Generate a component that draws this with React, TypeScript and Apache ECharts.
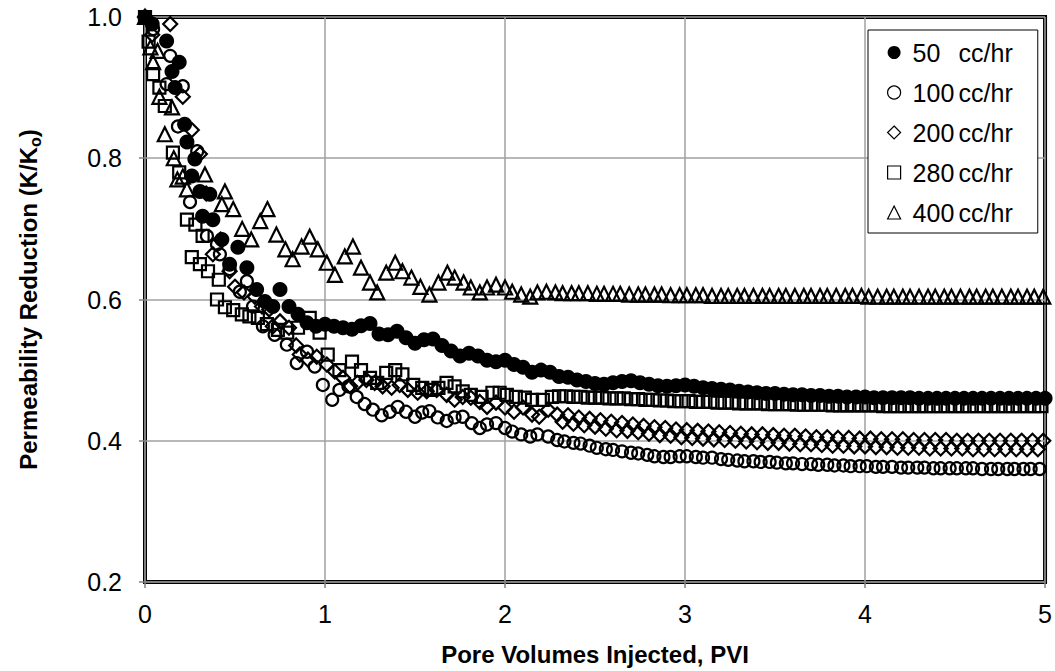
import React, { useEffect, useRef } from "react";
import * as echarts from "echarts";

// Flow rates (legend) and unit
const rates = ["50", "100", "200", "280", "400"];
const unit = "cc/hr";

// Axis settings
const xTickValues = [0, 1, 2, 3, 4, 5];
const yTickValues = [0.2, 0.4, 0.6, 0.8, 1.0];

// [PVI, K/Ko]
const data50: number[][] = [
  [0, 1.0], [0.04, 0.99], [0.12, 0.966], [0.15, 0.923], [0.167, 0.9], [0.19, 0.936], [0.22, 0.848], [0.233, 0.823],
  [0.26, 0.775], [0.277, 0.799], [0.305, 0.753], [0.32, 0.718], [0.36, 0.749], [0.377, 0.713], [0.427, 0.685],
  [0.47, 0.65], [0.516, 0.674], [0.566, 0.645], [0.62, 0.614], [0.666, 0.597], [0.71, 0.59], [0.75, 0.614],
  [0.8, 0.59], [0.85, 0.579], [0.9, 0.567], [0.95, 0.562], [1.0, 0.565], [1.05, 0.562], [1.1, 0.56], [1.15, 0.558],
  [1.2, 0.563], [1.25, 0.566], [1.3, 0.551], [1.35, 0.55], [1.4, 0.555], [1.45, 0.546], [1.5, 0.538], [1.55, 0.543],
  [1.6, 0.544], [1.65, 0.535], [1.7, 0.527], [1.75, 0.52], [1.8, 0.524], [1.85, 0.52], [1.9, 0.514], [1.95, 0.512],
  [2.0, 0.514], [2.05, 0.508], [2.1, 0.504], [2.15, 0.497], [2.2, 0.5], [2.25, 0.497], [2.3, 0.491], [2.35, 0.49],
  [2.4, 0.486], [2.45, 0.484], [2.5, 0.481], [2.55, 0.48], [2.6, 0.482], [2.65, 0.484], [2.7, 0.485], [2.75, 0.482],
  [2.8, 0.48], [2.85, 0.478], [2.9, 0.477], [2.95, 0.478], [3.0, 0.479], [3.05, 0.477], [3.1, 0.475], [3.15, 0.474],
  [3.2, 0.473], [3.25, 0.472], [3.3, 0.47], [3.35, 0.469], [3.4, 0.468], [3.45, 0.467], [3.5, 0.467], [3.55, 0.466],
  [3.6, 0.465], [3.65, 0.465], [3.7, 0.464], [3.75, 0.464], [3.8, 0.463], [3.85, 0.463], [3.9, 0.462], [3.95, 0.462],
  [4.0, 0.462], [4.05, 0.461], [4.1, 0.461], [4.15, 0.461], [4.2, 0.461], [4.25, 0.461], [4.3, 0.46], [4.35, 0.46],
  [4.4, 0.46], [4.45, 0.46], [4.5, 0.46], [4.55, 0.46], [4.6, 0.46], [4.65, 0.46], [4.7, 0.46], [4.75, 0.46],
  [4.8, 0.46], [4.85, 0.46], [4.9, 0.46], [4.95, 0.46], [5.0, 0.46],
];

const data100: number[][] = [
  [0, 1.0], [0.045, 0.983], [0.12, 0.905], [0.14, 0.945], [0.183, 0.845], [0.21, 0.902], [0.25, 0.738], [0.29, 0.81],
  [0.344, 0.69], [0.4, 0.678], [0.416, 0.664], [0.47, 0.643], [0.527, 0.611], [0.566, 0.626], [0.6, 0.59],
  [0.655, 0.562], [0.72, 0.55], [0.788, 0.536], [0.843, 0.51], [0.9, 0.526], [0.943, 0.505], [0.988, 0.479],
  [1.04, 0.458], [1.08, 0.472], [1.13, 0.477], [1.176, 0.462], [1.22, 0.452], [1.266, 0.444], [1.315, 0.436],
  [1.36, 0.441], [1.404, 0.448], [1.45, 0.441], [1.5, 0.434], [1.54, 0.44], [1.58, 0.442], [1.626, 0.433],
  [1.676, 0.428], [1.72, 0.433], [1.765, 0.434], [1.815, 0.425], [1.86, 0.418], [1.9, 0.423], [1.95, 0.425],
  [2.0, 0.418], [2.04, 0.413], [2.09, 0.409], [2.14, 0.406], [2.18, 0.409], [2.24, 0.406], [2.29, 0.401],
  [2.33, 0.399], [2.38, 0.397], [2.42, 0.396], [2.47, 0.393], [2.51, 0.39], [2.56, 0.388], [2.6, 0.387],
  [2.65, 0.385], [2.7, 0.383], [2.74, 0.382], [2.79, 0.38], [2.83, 0.378], [2.88, 0.377], [2.92, 0.377],
  [2.97, 0.378], [3.01, 0.378], [3.06, 0.377], [3.1, 0.376], [3.15, 0.376], [3.2, 0.374], [3.24, 0.373],
  [3.29, 0.372], [3.33, 0.371], [3.38, 0.371], [3.42, 0.37], [3.47, 0.37], [3.51, 0.369], [3.56, 0.368],
  [3.6, 0.368], [3.65, 0.367], [3.7, 0.367], [3.74, 0.366], [3.79, 0.366], [3.83, 0.365], [3.88, 0.365],
  [3.92, 0.364], [3.97, 0.364], [4.01, 0.364], [4.06, 0.363], [4.1, 0.363], [4.15, 0.363], [4.2, 0.362],
  [4.24, 0.362], [4.29, 0.362], [4.33, 0.362], [4.38, 0.361], [4.42, 0.361], [4.47, 0.361], [4.51, 0.361],
  [4.56, 0.361], [4.6, 0.361], [4.65, 0.36], [4.7, 0.36], [4.74, 0.36], [4.79, 0.36], [4.83, 0.36], [4.88, 0.36],
  [4.92, 0.36], [4.97, 0.36],
];

const data200: number[][] = [
  [0, 1.0], [0.04, 0.975], [0.14, 0.99], [0.21, 0.887], [0.26, 0.84], [0.305, 0.806], [0.34, 0.75], [0.377, 0.664],
  [0.42, 0.685], [0.47, 0.64], [0.5, 0.618], [0.55, 0.61], [0.61, 0.604], [0.65, 0.59], [0.69, 0.586], [0.71, 0.562],
  [0.75, 0.569], [0.8, 0.56], [0.84, 0.535], [0.86, 0.522], [0.905, 0.515], [0.954, 0.519], [1.01, 0.508],
  [1.054, 0.498], [1.1, 0.489], [1.14, 0.477], [1.18, 0.482], [1.23, 0.486], [1.276, 0.482], [1.32, 0.477],
  [1.37, 0.475], [1.415, 0.479], [1.46, 0.472], [1.515, 0.468], [1.565, 0.47], [1.62, 0.472], [1.676, 0.465],
  [1.72, 0.458], [1.765, 0.462], [1.81, 0.461], [1.86, 0.455], [1.9, 0.448], [1.95, 0.454], [2.0, 0.447],
  [2.05, 0.441], [2.1, 0.447], [2.15, 0.437], [2.19, 0.434], [2.24, 0.444], [2.29, 0.437],
  [2.32, 0.427], [2.35, 0.436], [2.38, 0.424], [2.41, 0.433], [2.44, 0.422], [2.47, 0.431], [2.5, 0.42], [2.53, 0.429],
  [2.56, 0.417], [2.59, 0.427], [2.62, 0.415], [2.65, 0.425], [2.68, 0.414], [2.71, 0.423], [2.74, 0.412], [2.77, 0.421],
  [2.8, 0.41], [2.83, 0.419], [2.86, 0.408], [2.89, 0.418], [2.92, 0.407], [2.95, 0.416], [2.98, 0.405], [3.01, 0.415],
  [3.04, 0.404], [3.07, 0.414], [3.1, 0.403], [3.13, 0.413], [3.16, 0.402], [3.19, 0.412], [3.22, 0.401], [3.25, 0.411],
  [3.28, 0.4], [3.31, 0.41], [3.34, 0.399], [3.37, 0.409], [3.4, 0.398], [3.43, 0.409], [3.46, 0.397], [3.49, 0.408],
  [3.52, 0.397], [3.55, 0.407], [3.58, 0.396], [3.61, 0.407], [3.64, 0.395], [3.67, 0.406], [3.7, 0.395], [3.73, 0.405],
  [3.76, 0.394], [3.79, 0.405], [3.82, 0.393], [3.85, 0.404], [3.88, 0.393], [3.91, 0.404], [3.94, 0.392], [3.97, 0.403],
  [4.0, 0.392], [4.03, 0.403], [4.06, 0.391], [4.09, 0.402], [4.12, 0.391], [4.15, 0.402], [4.18, 0.39], [4.21, 0.402],
  [4.24, 0.39], [4.27, 0.401], [4.3, 0.39], [4.33, 0.401], [4.36, 0.389], [4.39, 0.401], [4.42, 0.389], [4.45, 0.401],
  [4.48, 0.389], [4.51, 0.4], [4.54, 0.389], [4.57, 0.4], [4.6, 0.388], [4.63, 0.4], [4.66, 0.388], [4.69, 0.4],
  [4.72, 0.388], [4.75, 0.4], [4.78, 0.388], [4.81, 0.4], [4.84, 0.388], [4.87, 0.4], [4.9, 0.388], [4.93, 0.4],
  [4.96, 0.388], [4.99, 0.4],
];

const data280: number[][] = [
  [0, 1.0], [0.02, 0.965], [0.045, 0.919], [0.08, 0.9], [0.11, 0.874], [0.155, 0.808], [0.19, 0.78], [0.233, 0.713],
  [0.26, 0.66], [0.28, 0.706], [0.305, 0.65], [0.32, 0.69], [0.35, 0.64], [0.4, 0.6], [0.41, 0.628], [0.444, 0.589],
  [0.49, 0.585], [0.538, 0.579], [0.58, 0.576], [0.627, 0.574], [0.677, 0.565], [0.738, 0.557], [0.79, 0.553],
  [0.85, 0.56], [0.915, 0.574], [0.97, 0.553], [1.015, 0.522], [1.08, 0.5], [1.15, 0.512], [1.2, 0.5], [1.25, 0.489],
  [1.29, 0.482], [1.34, 0.496], [1.39, 0.5], [1.43, 0.494], [1.49, 0.479], [1.54, 0.475], [1.59, 0.472],
  [1.63, 0.475], [1.675, 0.482], [1.72, 0.477], [1.765, 0.47], [1.81, 0.465], [1.87, 0.462], [1.93, 0.468],
  [1.97, 0.468], [2.01, 0.465], [2.06, 0.462], [2.11, 0.461], [2.15, 0.458], [2.21, 0.458], [2.26, 0.462],
  [2.3, 0.463], [2.34, 0.463], [2.38, 0.462], [2.42, 0.462], [2.46, 0.461], [2.5, 0.461], [2.54, 0.461], [2.58, 0.46],
  [2.62, 0.46], [2.66, 0.46], [2.7, 0.459], [2.74, 0.459], [2.78, 0.458], [2.82, 0.458], [2.86, 0.457], [2.9, 0.457],
  [2.94, 0.456], [2.98, 0.456], [3.02, 0.456], [3.06, 0.455], [3.1, 0.455], [3.14, 0.455], [3.18, 0.454],
  [3.22, 0.454], [3.26, 0.454], [3.3, 0.453], [3.34, 0.453], [3.38, 0.453], [3.42, 0.453], [3.46, 0.452],
  [3.5, 0.452], [3.54, 0.452], [3.58, 0.452], [3.62, 0.451], [3.66, 0.451], [3.7, 0.451], [3.74, 0.451],
  [3.78, 0.451], [3.82, 0.45], [3.86, 0.45], [3.9, 0.45], [3.94, 0.45], [3.98, 0.45], [4.02, 0.45], [4.06, 0.45],
  [4.1, 0.449], [4.14, 0.449], [4.18, 0.449], [4.22, 0.449], [4.26, 0.449], [4.3, 0.449], [4.34, 0.449],
  [4.38, 0.449], [4.42, 0.449], [4.46, 0.449], [4.5, 0.449], [4.54, 0.449], [4.58, 0.449], [4.62, 0.449],
  [4.66, 0.449], [4.7, 0.449], [4.74, 0.449], [4.78, 0.449], [4.82, 0.449], [4.86, 0.449], [4.9, 0.449],
  [4.94, 0.449], [4.98, 0.449],
];

const data400: number[][] = [
  [0, 1.0], [0.03, 0.957], [0.045, 0.936], [0.07, 0.952], [0.08, 0.887], [0.11, 0.834], [0.15, 0.872], [0.16, 0.8],
  [0.18, 0.77], [0.21, 0.774], [0.233, 0.756], [0.333, 0.777], [0.427, 0.735], [0.444, 0.753], [0.49, 0.728],
  [0.54, 0.7], [0.59, 0.685], [0.64, 0.711], [0.68, 0.728], [0.73, 0.692], [0.78, 0.671], [0.82, 0.657],
  [0.87, 0.675], [0.915, 0.689], [0.96, 0.671], [1.01, 0.652], [1.055, 0.635], [1.11, 0.661], [1.155, 0.675],
  [1.2, 0.645], [1.25, 0.624], [1.29, 0.61], [1.34, 0.638], [1.39, 0.652], [1.43, 0.64], [1.48, 0.631],
  [1.53, 0.618], [1.58, 0.607], [1.63, 0.624], [1.68, 0.638], [1.72, 0.631], [1.77, 0.624], [1.81, 0.617],
  [1.86, 0.61], [1.9, 0.617], [1.95, 0.621], [2.0, 0.617], [2.04, 0.611], [2.09, 0.607], [2.14, 0.604],
  [2.18, 0.61], [2.23, 0.611], [2.28, 0.61], [2.32, 0.609], [2.37, 0.609], [2.41, 0.609], [2.46, 0.609],
  [2.51, 0.608], [2.55, 0.608], [2.6, 0.608], [2.64, 0.608], [2.69, 0.607], [2.74, 0.607], [2.78, 0.607],
  [2.83, 0.607], [2.87, 0.607], [2.92, 0.606], [2.97, 0.606], [3.01, 0.606], [3.06, 0.606], [3.1, 0.606],
  [3.15, 0.605], [3.2, 0.605], [3.24, 0.605], [3.29, 0.605], [3.33, 0.605], [3.38, 0.605], [3.43, 0.605],
  [3.47, 0.605], [3.52, 0.605], [3.56, 0.605], [3.61, 0.605], [3.66, 0.605], [3.7, 0.605], [3.75, 0.605],
  [3.79, 0.605], [3.84, 0.605], [3.89, 0.605], [3.93, 0.605], [3.98, 0.605], [4.02, 0.604], [4.07, 0.604],
  [4.12, 0.604], [4.16, 0.604], [4.21, 0.604], [4.25, 0.604], [4.3, 0.604], [4.35, 0.604], [4.39, 0.604],
  [4.44, 0.604], [4.48, 0.604], [4.53, 0.604], [4.58, 0.604], [4.62, 0.604], [4.67, 0.604], [4.71, 0.604],
  [4.76, 0.604], [4.81, 0.604], [4.85, 0.604], [4.9, 0.604], [4.94, 0.604], [4.99, 0.604],
];

const seriesData = [data50, data100, data200, data280, data400];
const symbols = ["circle", "circle", "diamond", "rect", "triangle"];
const filled = [true, false, false, false, false];
const sizes = [15, 12, 14, 12, 14];

const FONT = "'Liberation Sans', Arial, sans-serif";

export default function App() {
  const ref = useRef<HTMLDivElement>(null);

  useEffect(() => {
    if (!ref.current) return;
    const chart = echarts.init(ref.current, null, { renderer: "svg" });
    const names = rates.map((r) => `${r} ${unit}`);
    const option: any = {
      animation: false,
      backgroundColor: "#fff",
      textStyle: { fontFamily: FONT },
      grid: {
        left: 145,
        right: 9,
        top: 17,
        bottom: 89,
        show: true,
        borderColor: "#000",
        borderWidth: 4,
        backgroundColor: "transparent",
      },
      xAxis: {
        type: "value",
        min: xTickValues[0],
        max: xTickValues[xTickValues.length - 1],
        interval: 1,
        name: "Pore Volumes Injected, PVI",
        nameLocation: "middle",
        nameGap: 60,
        nameTextStyle: { fontSize: 24, fontWeight: "bold", color: "#000", fontFamily: FONT },
        axisLine: { show: true, lineStyle: { color: "#808080", width: 1.5 } },
        axisTick: { show: true, length: 6, lineStyle: { color: "#808080", width: 1.5 } },
        axisLabel: { fontSize: 25, color: "#000", margin: 19, fontFamily: FONT },
        splitLine: { show: true, lineStyle: { color: "#a0a0a0", width: 1.5 } },
      },
      yAxis: {
        type: "value",
        min: yTickValues[0],
        max: yTickValues[yTickValues.length - 1],
        interval: 0.2,
        name: "{m|Permeability Reduction (K/K}{s|o}{m|)}",
        nameLocation: "middle",
        nameRotate: 90,
        nameGap: 102,
        nameTextStyle: {
          color: "#000",
          rich: {
            m: { fontSize: 24, fontWeight: "bold", color: "#000", fontFamily: FONT, lineHeight: 30 },
            s: { fontSize: 16, fontWeight: "bold", color: "#000", fontFamily: FONT, lineHeight: 30, verticalAlign: "bottom", padding: [12, 0, 0, 0] },
          },
        },
        axisLine: { show: true, lineStyle: { color: "#808080", width: 1.5 } },
        axisTick: { show: true, length: 6, lineStyle: { color: "#808080", width: 1.5 } },
        axisLabel: {
          fontSize: 25,
          color: "#000",
          margin: 23,
          fontFamily: FONT,
          formatter: (v: number) => v.toFixed(1),
        },
        splitLine: { show: true, lineStyle: { color: "#a0a0a0", width: 1.5 } },
      },
      legend: {
        orient: "vertical",
        left: 868,
        top: 30,
        backgroundColor: "#fff",
        borderColor: "#000",
        borderWidth: 1,
        padding: [10, 25, 8, 19],
        itemGap: 15,
        itemWidth: 13,
        itemHeight: 13,
        itemStyle: { borderWidth: 1.2 },
        data: names,
        formatter: (name: string) => {
          const parts = name.split(" ");
          return `{n|${parts[0]}}{u|${parts[1]}}`;
        },
        textStyle: {
          fontSize: 25,
          color: "#000",
          fontFamily: FONT,
          rich: {
            n: { fontSize: 25, color: "#000", fontFamily: FONT, width: 46, padding: [0, 0, 0, 7] },
            u: { fontSize: 25, color: "#000", fontFamily: FONT },
          },
        },
      },
      series: seriesData.map((d, i) => ({
        name: names[i],
        type: "scatter",
        data: d,
        symbol: symbols[i],
        symbolSize: sizes[i],
        z: 2 + i,
        itemStyle: filled[i]
          ? { color: "#000", borderWidth: 0, opacity: 1 }
          : { color: "rgba(255,255,255,0)", borderColor: "#000", borderWidth: 2.2, opacity: 1 },
        emphasis: { disabled: true },
      })),
    };
    chart.setOption(option);
    return () => chart.dispose();
  }, []);

  return (
    <div
      ref={ref}
      style={{ position: "fixed", left: 0, top: 0, width: 1055, height: 671, background: "#fff" }}
    />
  );
}
